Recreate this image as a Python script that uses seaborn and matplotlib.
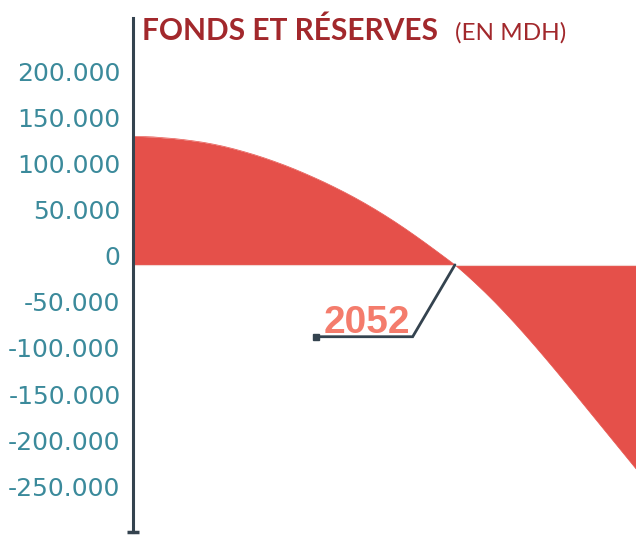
import numpy as np
import pandas as pd
import seaborn as sns
import matplotlib.pyplot as plt
from matplotlib.transforms import ScaledTranslation

# fonds et reserves (MDH) par annee
years = list(range(2020, 2071))
reserves = [139500, 139300, 138900, 138000, 137200, 136000, 134600, 133000, 131000, 128700,
            126000, 123000, 119800, 116300, 112500, 108500, 104200, 99600, 94800, 89800,
            84500, 79000, 73200, 67100, 60700, 54000, 47000, 39700, 32100, 24300,
            16300, 8200, 0, -9500, -19500, -29900, -40800, -52200, -64000, -76200,
            -88700, -101500, -114500, -127700, -141000, -154400, -167800, -181200, -194600, -208000,
            -221400]
yticks = [200000, 150000, 100000, 50000, 0, -50000, -100000, -150000, -200000, -250000]
ytick_labels = ["200.000", "150.000", "100.000", "50.000", "0", "-50.000", "-100.000",
                "-150.000", "-200.000", "-250.000"]
cross_year = 2052

df = pd.DataFrame({"annee": years, "reserves": reserves})

sns.set_style("white")
red = "#e5504a"
dark = "#34434f"
teal = "#3b8a9b"

fig = plt.figure(figsize=(6.36, 5.35), dpi=100)
ax = fig.add_axes([133 / 636, 1 - 532 / 535, 1 - 133 / 636, (532 - 18) / 535])

sns.lineplot(data=df, x="annee", y="reserves", ax=ax, color=red, lw=0.5)
ax.fill_between(df["annee"], df["reserves"], 0, color=red, lw=0)
ax.axhline(0, color="#f3d6d2", lw=0.8)

ax.set_xlim(2020, 2070)
ax.set_ylim(-290000, 268000)
ax.set_xticks([])
ax.set_yticks(yticks)
ax.set_yticklabels(ytick_labels, color=teal, fontsize=18, family="DejaVu Sans")
ax.tick_params(axis="y", length=0, pad=9)
for lab in ax.get_yticklabels():
    lab.set_transform(lab.get_transform() + ScaledTranslation(0, 9 / 100, fig.dpi_scale_trans))
ax.set_xlabel("")
ax.set_ylabel("")

for s in ["top", "right", "bottom"]:
    ax.spines[s].set_visible(False)
ax.spines["left"].set_color(dark)
ax.spines["left"].set_linewidth(2.2)
ax.plot([0], [0], marker="_", ms=9, mew=2.5, color=dark, transform=ax.transAxes, clip_on=False)

# annotation 2052
ax.plot([cross_year, 2047.8, 2038.2], [0, -78000, -78000], color=dark, lw=2, solid_joinstyle="miter")
ax.plot([2038.2], [-78000], marker="s", ms=5, color=dark)
ax.text(2043.2, -74000, str(cross_year), color="#f47c6c", fontsize=28, fontweight="bold",
        family="Liberation Sans", ha="center", va="baseline")

# titre
fig.text(142 / 636, 1 - 40 / 535, "FONDS ET RÉSERVES", color="#a2282c", fontsize=21.5,
         fontweight="bold", family="Lato", va="baseline")
fig.text(455 / 636, 1 - 40 / 535, "(EN MDH)", color="#a2282c", fontsize=17.5,
         family="Lato", va="baseline")

fig.savefig("out.png", dpi=100)
